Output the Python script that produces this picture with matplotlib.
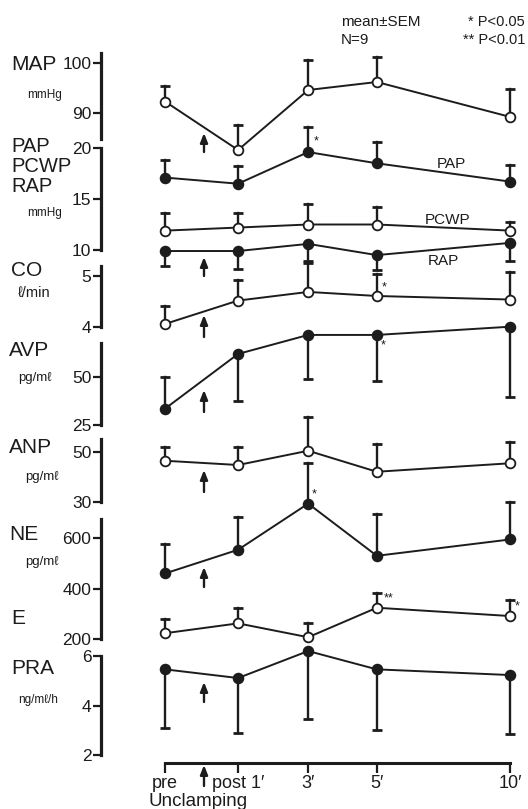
import matplotlib.pyplot as plt

plt.rcParams['font.family'] = ['Liberation Sans', 'DejaVu Sans']

W, H = 528, 809
INK = '#1c1c1c'

times = ['pre', 'post 1\u2032', '3\u2032', '5\u2032', '10\u2032']
t_pos = [0, 1, 1.96, 2.90, 4.73]
unclamp = 0.53

map_mean = [92.3, 82.6, 94.6, 96.2, 89.2]
map_sem = [3.1, 4.9, 6.0, 5.0, 5.6]
pap_mean = [17.1, 16.5, 19.6, 18.5, 16.7]
pap_sem = [1.7, 1.7, 2.5, 2.1, 1.6]
pcwp_mean = [11.9, 12.2, 12.5, 12.5, 11.9]
pcwp_sem = [1.7, 1.4, 2.0, 1.7, 0.8]
rap_mean = [9.9, 9.9, 10.6, 9.5, 10.7]
rap_sem = [1.5, 1.8, 1.7, 1.5, 1.8]
co_mean = [4.06, 4.52, 4.69, 4.61, 4.54]
co_sem = [0.36, 0.40, 0.56, 0.43, 0.54]
avp_mean = [33.5, 62.0, 71.9, 71.9, 76.2]
avp_sem = [16.7, 24.3, 23.1, 24.0, 36.5]
avp_dir = [1, -1, -1, -1, -1]
anp_mean = [46.5, 44.8, 50.5, 42.1, 45.5]
anp_sem = [5.5, 7.3, 13.6, 11.0, 8.6]
ne_mean = [460, 554, 737, 530, 595]
ne_sem = [116, 130, 161, 167, 149]
e_mean = [223, 262, 207, 324, 291]
e_sem = [55, 59, 58, 60, 64]
pra_mean = [5.46, 5.11, 6.20, 5.46, 5.23]
pra_sem = [2.36, 2.21, 2.76, 2.45, 2.38]

fig = plt.figure(figsize=(W / 100, H / 100), dpi=100)

X0, X1 = 101, 528
XLIM = (-0.877, 4.97)


def fx(x):
    return x / W


def fy(y):
    return 1 - y / H


def panel(top, bottom, ylim, ticks):
    ax = fig.add_axes([fx(X0), fy(bottom), fx(X1) - fx(X0), (bottom - top) / H])
    ax.set_xlim(XLIM)
    ax.set_ylim(ylim)
    ax.patch.set_visible(False)
    for s in ['top', 'right', 'bottom']:
        ax.spines[s].set_visible(False)
    ax.spines['left'].set_linewidth(2.3)
    ax.spines['left'].set_color(INK)
    ax.set_xticks([])
    ax.set_yticks(ticks)
    ax.tick_params(axis='y', direction='out', length=6, width=1.6,
                   labelsize=12.5, pad=1, color=INK, labelcolor=INK)
    return ax


def series(ax, mean, sem, filled, direction):
    if isinstance(direction, int):
        direction = [direction] * len(mean)
    for x, m, s, d in zip(t_pos, mean, sem, direction):
        end = m + d * s
        ax.plot([x, x], [m, end], color=INK, lw=1.7, clip_on=False, zorder=2)
        ax.plot([x], [end], marker='_', ms=7.5, mew=2.0, color=INK,
                clip_on=False, zorder=2)
    ax.plot(t_pos, mean, color=INK, lw=1.4, marker='o', ms=7,
            mfc=INK if filled else 'white', mec=INK, mew=1.3,
            clip_on=False, zorder=3)


def label(x, y, s, size=15):
    fig.text(fx(x), fy(y), s, fontsize=size, va='center', ha='left', color=INK)


def arrow(tip, tail, x=204):
    fig.add_artist(plt.Annotation(
        '', xy=(fx(x), fy(tip)), xytext=(fx(x), fy(tail)),
        xycoords='figure fraction', textcoords='figure fraction',
        arrowprops=dict(arrowstyle='-|>,head_length=0.55,head_width=0.22',
                        color=INK, lw=1.7, shrinkA=0, shrinkB=0)))


def star(x, y, s):
    fig.text(fx(x), fy(y), s, fontsize=9, va='center', ha='left', color=INK)


# MAP
ax = panel(53, 139, (84.8, 102), [90, 100])
series(ax, map_mean, map_sem, False, 1)
label(11, 64, 'MAP')
label(27, 95, 'mmHg', 8.5)
arrow(133, 152)

# PAP / PCWP / RAP
ax = panel(148, 250, (10, 20), [10, 15, 20])
series(ax, pap_mean, pap_sem, True, 1)
series(ax, pcwp_mean, pcwp_sem, False, 1)
series(ax, rap_mean, rap_sem, True, -1)
label(11, 147, 'PAP', 14.5)
label(11, 167, 'PCWP', 14.5)
label(11, 187, 'RAP', 14.5)
label(27, 213, 'mmHg', 8.5)
fig.text(fx(451), fy(164), 'PAP', fontsize=11, va='center', ha='center', color=INK)
fig.text(fx(448), fy(220), 'PCWP', fontsize=11, va='center', ha='center', color=INK)
fig.text(fx(443), fy(261), 'RAP', fontsize=11, va='center', ha='center', color=INK)
star(314, 141, '*')
arrow(257, 276)

# CO
ax = panel(266, 327, (4, 5.2), [4, 5])
series(ax, co_mean, co_sem, False, 1)
label(11, 271, 'CO')
label(18, 293, '\u2113/min', 10.5)
star(382, 287, '*')
arrow(315, 337)

# AVP
ax = panel(343, 425, (25, 67.7), [25, 50])
series(ax, avp_mean, avp_sem, True, avp_dir)
label(9, 351, 'AVP')
label(18, 378, 'pg/m\u2113', 9.5)
star(381, 345, '*')
arrow(390, 412)

# ANP
ax = panel(439, 502, (30, 55.2), [30, 50])
series(ax, anp_mean, anp_sem, False, 1)
label(9, 447, 'ANP')
label(25, 477, 'pg/m\u2113', 9.5)
arrow(470, 492)

# NE and E share one axis
ax = panel(519, 639, (200, 676), [200, 400, 600])
series(ax, ne_mean, ne_sem, True, 1)
series(ax, e_mean, e_sem, False, 1)
label(9, 535, 'NE')
label(25, 562, 'pg/m\u2113', 9.5)
label(11, 619, 'E')
star(312, 494, '*')
star(384, 598, '**')
star(515, 606, '*')
arrow(567, 587)

# PRA
ax = panel(656, 755, (2, 6), [2, 4, 6])
series(ax, pra_mean, pra_sem, True, -1)
label(11, 669, 'PRA')
label(18, 700, 'ng/m\u2113/h', 8.5)
arrow(682, 702)

# time axis
ax = fig.add_axes([fx(X0), fy(763), fx(X1) - fx(X0), 0.001])
ax.set_xlim(XLIM)
ax.patch.set_visible(False)
for s in ['top', 'right', 'left']:
    ax.spines[s].set_visible(False)
ax.spines['bottom'].set_bounds(t_pos[0], t_pos[-1])
ax.spines['bottom'].set_linewidth(2.2)
ax.spines['bottom'].set_color(INK)
ax.set_yticks([])
ax.set_xticks(t_pos)
ax.set_xticklabels(times)
ax.tick_params(axis='x', direction='out', length=7, width=1.6,
               labelsize=13, pad=2, color=INK, labelcolor=INK)
arrow(765, 786)
fig.text(fx(198), fy(801), 'Unclamping', fontsize=13.5, ha='center', va='center', color=INK)

# legend notes
fig.text(fx(341), fy(22), 'mean\u00b1SEM', fontsize=11, va='center', color=INK)
fig.text(fx(341), fy(40), 'N=9', fontsize=11, va='center', color=INK)
fig.text(fx(525), fy(22), '* P<0.05', fontsize=10.5, va='center', ha='right', color=INK)
fig.text(fx(525), fy(40), '** P<0.01', fontsize=10.5, va='center', ha='right', color=INK)

fig.savefig('out.png', dpi=100)
